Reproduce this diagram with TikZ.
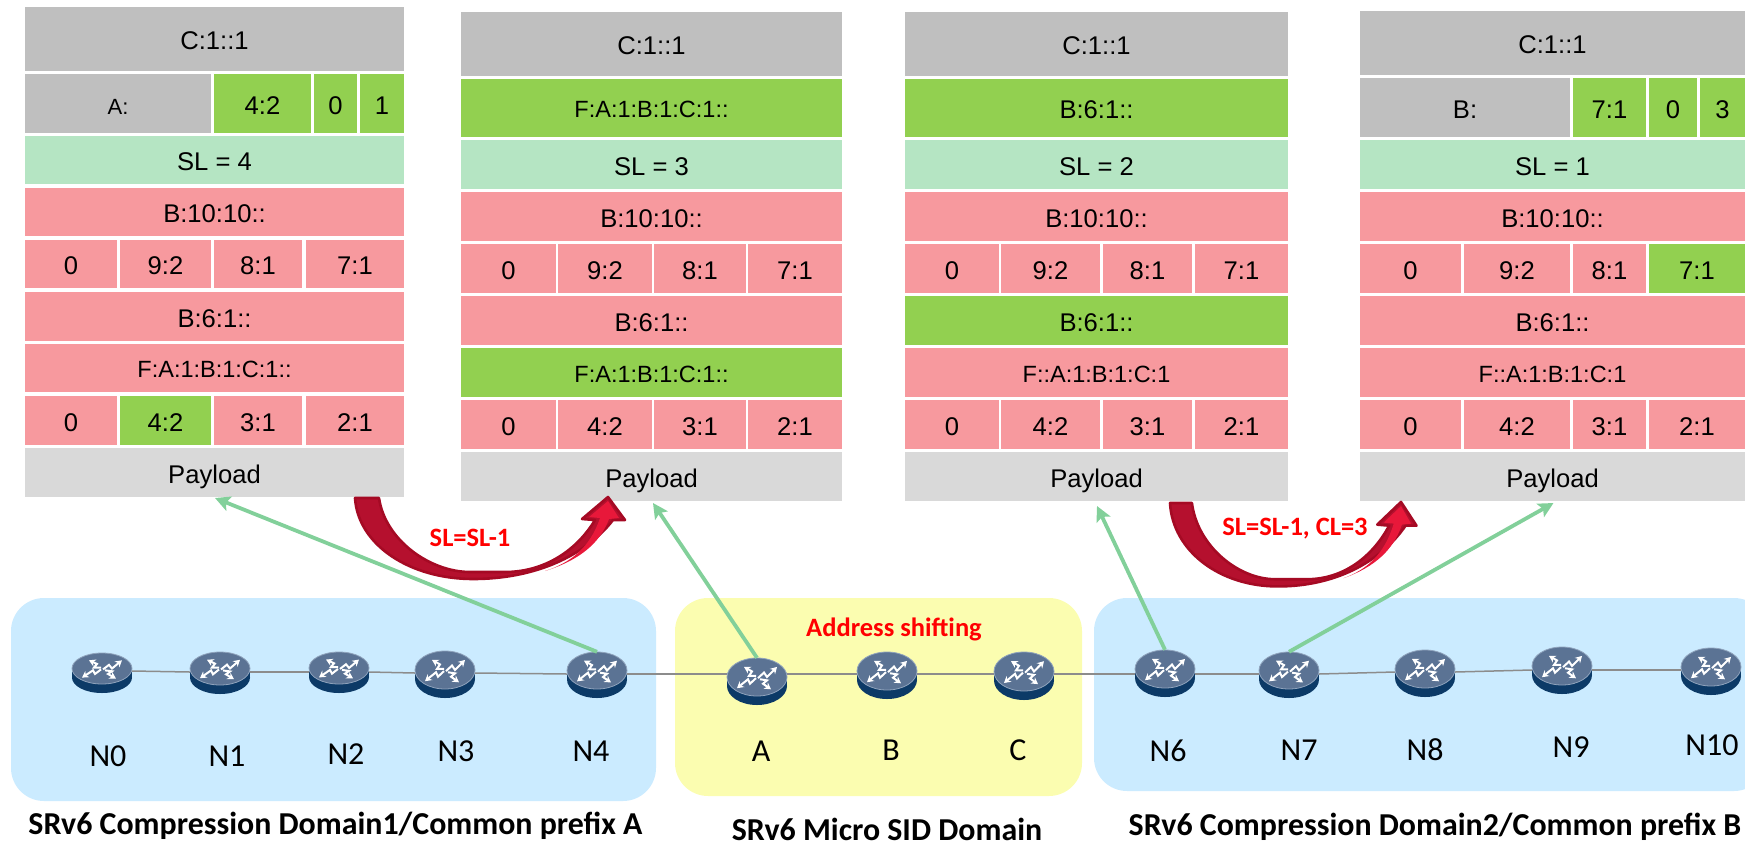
\documentclass[tikz,border=0pt]{standalone}
\usepackage{fontspec}
\setmainfont{Liberation Sans}
\newfontfamily\labelfont{Carlito}
\usetikzlibrary{
    arrows.meta,
    shapes,
    calc,
}

\begin{document}
\begin{tikzpicture}[x=1pt,y=-1pt,>={Stealth[length=15pt,width=15pt,inset=3pt]}]

    \tikzstyle{commonCell}=[inner sep=0pt, align=center, text height=21pt, text depth=0pt, font=\fontsize{25.6}{25.6}\selectfont]
    \tikzstyle{greyCell}=[commonCell, fill=black!25]
    \tikzstyle{payCell}=[commonCell, fill=black!15]
    \tikzstyle{greenCell}=[commonCell, fill=green1]
    \tikzstyle{mintCell}=[commonCell, fill=mint1]
    \tikzstyle{pinkCell}=[commonCell, fill=pink1]
    \tikzstyle{small}=[font=\fontsize{23.5}{23.5}\selectfont, text height=19.5pt]
    \tikzstyle{domainBox}=[inner sep=0pt, rounded corners=33pt]
    \tikzstyle{routerNode}=[ellipse, inner sep=0pt, minimum width=60pt]
    \tikzstyle{routerBody}=[fill=navy1]
    \tikzstyle{routerFace}=[fill=slate1, draw=slate2, line width=0.8pt]
    \tikzstyle{routerArrow}=[white, line width=2pt, -{Stealth[length=6.5pt,width=7.5pt]}]
    \tikzstyle{link}=[gray2, line width=1.5pt]
    \tikzstyle{feed}=[green2, line width=3.8pt, ->]
    \tikzstyle{netLabel}=[inner sep=0pt, text height=20pt, text depth=0pt, font=\labelfont\fontsize{32}{32}\selectfont]
    \tikzstyle{title}=[inner sep=0pt, text height=20pt, text depth=0pt, font=\labelfont\bfseries\fontsize{31.9}{31.9}\selectfont]
    \tikzstyle{redNote}=[inner sep=0pt, text height=17pt, text depth=0pt, text=red, font=\labelfont\bfseries\fontsize{26.5}{26.5}\selectfont]
    \tikzstyle{bendBody}=[fill=bend1, draw=bend2, line width=2.6pt, line join=round]
    \tikzstyle{bendLight}=[fill=bend3]

    \definecolor{green1}{HTML}{92D050}
    \definecolor{green2}{HTML}{82D09A}
    \definecolor{mint1}{HTML}{B5E5C3}
    \definecolor{pink1}{HTML}{F7999E}
    \definecolor{blue1}{HTML}{CBEBFF}
    \definecolor{yellow1}{HTML}{FBFDB0}
    \definecolor{navy1}{HTML}{0C3A67}
    \definecolor{slate1}{HTML}{5B7394}
    \definecolor{slate2}{HTML}{8FA3BC}
    \definecolor{gray2}{HTML}{8C8C8C}
    \definecolor{bend1}{HTML}{B5102E}
    \definecolor{bend2}{HTML}{A50A24}
    \definecolor{bend3}{HTML}{E8183A}

    \useasboundingbox (0,0) rectangle (1745,841);

    % One table cell: style, name, text, left, right, top, bottom
    \def \cell#1#2#3#4#5#6#7{\node at ({(#4+#5)/2},{(#6+#7)/2}) [#1, minimum width={#5-#4}, minimum height={#7-#6}] (#2) {#3};}

    % One router: name, x, y of the link, top, bottom
    \def \router#1#2#3#4#5{
        \pgfmathsetmacro \faceR {(#5-#4-9)/2}
        \pgfmathsetmacro \faceY {#4+\faceR}
        \pgfmathsetmacro \nodeH {2*(#3-#4)}
        \fill [routerBody] (#2,\faceY+9) ellipse [x radius=30pt, y radius=\faceR pt];
        \fill [routerBody] (#2-30,\faceY) rectangle (#2+30,\faceY+9);
        \fill [routerFace] (#2,\faceY) ellipse [x radius=30pt, y radius=\faceR pt];
        \node at (#2,#3) [routerNode, minimum height=\nodeH] (#1) {};
        \begin{scope}[shift={(#2,\faceY)}, yscale=\faceR/17]
            \draw [routerArrow] (1,1) -- (7,-4) -- (10,0) -- (20,-9);
            \draw [routerArrow] (-1,1) -- (-7,6) -- (-9,2) -- (-20,10);
            \draw [routerArrow] (-1,-1) -- (-8,-1) -- (-5,-5) -- (-13,-9);
            \draw [routerArrow] (3,2) -- (10,3) -- (6,6) -- (14,11);
        \end{scope}
    }

    % One curved arrow, local coordinates
    \def \bendarrow{
        \draw [bendBody] (0,0) .. controls (3,47) and (55,81) .. (118,81) .. controls (180,81) and (230,58) .. (258,22) -- (270,22) -- (253,-1) -- (227,21) -- (240,22) .. controls (222,52) and (190,74) .. (150,74) -- (115,74) .. controls (75,74) and (30,42) .. (24,0) -- cycle;
        \fill [bendLight] (190,73) .. controls (225,62) and (245,45) .. (254,21) -- (264,20) -- (253,3) -- (234,19) -- (245,20) .. controls (235,50) and (215,65) .. (190,73) -- cycle;
    }

    % Domains
    \node at (333.5,699.5) [domainBox, fill=blue1, minimum width=645, minimum height=203] (DomA) {};
    \node at (878.5,697) [domainBox, fill=yellow1, minimum width=407, minimum height=198] (DomS) {};
    \node at (1430.5,694.5) [domainBox, fill=blue1, minimum width=673, minimum height=193] (DomB) {};

    % First table
    \cell{greyCell}{T1sid}{C:1::1}{25}{404}{7}{71}
    \cell{greyCell}{T1pre}{\fontsize{22}{22}\selectfont A:}{25}{211}{74}{133}
    \cell{greenCell}{T1fun}{4:2}{214}{311}{74}{133}
    \cell{greenCell}{T1zero}{0}{314}{357}{74}{133}
    \cell{greenCell}{T1one}{1}{360}{404}{74}{133}
    \cell{mintCell}{T1sl}{SL = 4}{25}{404}{136}{184}
    \cell{pinkCell}{T1seg}{B:10:10::}{25}{404}{188}{236}
    \cell{pinkCell}{T1a}{0}{25}{117}{240}{288}
    \cell{pinkCell}{T1b}{9:2}{120}{211}{240}{288}
    \cell{pinkCell}{T1c}{8:1}{214}{302}{240}{288}
    \cell{pinkCell}{T1d}{7:1}{306}{404}{240}{288}
    \cell{pinkCell}{T1mid}{B:6:1::}{25}{404}{292}{341}
    \cell{pinkCell, small}{T1low}{F:A:1:B:1:C:1::}{25}{404}{344}{392}
    \cell{pinkCell}{T1e}{0}{25}{117}{396}{445}
    \cell{greenCell}{T1f}{4:2}{120}{211}{396}{445}
    \cell{pinkCell}{T1g}{3:1}{214}{302}{396}{445}
    \cell{pinkCell}{T1h}{2:1}{306}{404}{396}{445}
    \cell{payCell}{T1pay}{Payload}{25}{404}{448}{497}

    % Second table
    \cell{greyCell}{T2sid}{C:1::1}{461}{842}{12}{76}
    \cell{greenCell, small}{T2pre}{F:A:1:B:1:C:1::}{461}{842}{79}{137}
    \cell{mintCell}{T2sl}{SL = 3}{461}{842}{140}{189}
    \cell{pinkCell}{T2seg}{B:10:10::}{461}{842}{192}{241}
    \cell{pinkCell}{T2a}{0}{461}{556}{244}{293}
    \cell{pinkCell}{T2b}{9:2}{558}{652}{244}{293}
    \cell{pinkCell}{T2c}{8:1}{654}{746}{244}{293}
    \cell{pinkCell}{T2d}{7:1}{748}{842}{244}{293}
    \cell{pinkCell}{T2mid}{B:6:1::}{461}{842}{296}{345}
    \cell{greenCell, small}{T2low}{F:A:1:B:1:C:1::}{461}{842}{348}{397}
    \cell{pinkCell}{T2e}{0}{461}{556}{400}{449}
    \cell{pinkCell}{T2f}{4:2}{558}{652}{400}{449}
    \cell{pinkCell}{T2g}{3:1}{654}{746}{400}{449}
    \cell{pinkCell}{T2h}{2:1}{748}{842}{400}{449}
    \cell{payCell}{T2pay}{Payload}{461}{842}{452}{501}

    % Third table
    \cell{greyCell}{T3sid}{C:1::1}{905}{1288}{12}{76}
    \cell{greenCell}{T3pre}{B:6:1::}{905}{1288}{79}{137}
    \cell{mintCell}{T3sl}{SL = 2}{905}{1288}{140}{189}
    \cell{pinkCell}{T3seg}{B:10:10::}{905}{1288}{192}{241}
    \cell{pinkCell}{T3a}{0}{905}{999}{244}{293}
    \cell{pinkCell}{T3b}{9:2}{1001}{1100}{244}{293}
    \cell{pinkCell}{T3c}{8:1}{1103}{1192}{244}{293}
    \cell{pinkCell}{T3d}{7:1}{1195}{1288}{244}{293}
    \cell{greenCell}{T3mid}{B:6:1::}{905}{1288}{296}{345}
    \cell{pinkCell, small}{T3low}{F::A:1:B:1:C:1}{905}{1288}{348}{397}
    \cell{pinkCell}{T3e}{0}{905}{999}{400}{449}
    \cell{pinkCell}{T3f}{4:2}{1001}{1100}{400}{449}
    \cell{pinkCell}{T3g}{3:1}{1103}{1192}{400}{449}
    \cell{pinkCell}{T3h}{2:1}{1195}{1288}{400}{449}
    \cell{payCell}{T3pay}{Payload}{905}{1288}{452}{501}

    % Fourth table, runs off the page
    \cell{greyCell}{T4sid}{C:1::1}{1360}{1745}{11}{75}
    \cell{greyCell}{T4pre}{B:}{1360}{1570}{78}{137}
    \cell{greenCell}{T4fun}{7:1}{1573}{1646}{78}{137}
    \cell{greenCell}{T4zero}{0}{1649}{1697}{78}{137}
    \cell{greenCell}{T4three}{3}{1700}{1745}{78}{137}
    \cell{mintCell}{T4sl}{SL = 1}{1360}{1745}{140}{189}
    \cell{pinkCell}{T4seg}{B:10:10::}{1360}{1745}{192}{241}
    \cell{pinkCell}{T4a}{0}{1360}{1461}{244}{293}
    \cell{pinkCell}{T4b}{9:2}{1464}{1570}{244}{293}
    \cell{pinkCell}{T4c}{8:1}{1573}{1646}{244}{293}
    \cell{greenCell}{T4d}{7:1}{1649}{1745}{244}{293}
    \cell{pinkCell}{T4mid}{B:6:1::}{1360}{1745}{296}{345}
    \cell{pinkCell, small}{T4low}{F::A:1:B:1:C:1}{1360}{1745}{348}{397}
    \cell{pinkCell}{T4e}{0}{1360}{1461}{400}{449}
    \cell{pinkCell}{T4f}{4:2}{1464}{1570}{400}{449}
    \cell{pinkCell}{T4g}{3:1}{1573}{1646}{400}{449}
    \cell{pinkCell}{T4h}{2:1}{1649}{1745}{400}{449}
    \cell{payCell}{T4pay}{Payload}{1360}{1745}{452}{501}

    % Routers
    \router{N0}{102}{671}{653}{693}
    \router{N1}{220}{672}{652}{694}
    \router{N2}{339}{672}{652}{693}
    \router{N3}{445}{673}{651}{698}
    \router{N4}{597}{674}{652}{698}
    \router{A}{757}{674}{658}{705}
    \router{B}{887}{674}{652}{699}
    \router{C}{1024}{674}{652}{700}
    \router{N6}{1165}{674}{650}{697}
    \router{N7}{1289}{674}{652}{698}
    \router{N8}{1425}{672}{650}{697}
    \router{N9}{1562}{670}{647}{694}
    \router{N10}{1711}{670}{648}{695}

    % Links
    \draw [link] (N0.east) -- (N1.west);
    \draw [link] (N1.east) -- (N2.west);
    \draw [link] (N2.east) -- (N3.west);
    \draw [link] (N3.east) -- (N4.west);
    \draw [link] (N4.east) -- (A.west);
    \draw [link] (A.east) -- (B.west);
    \draw [link] (B.east) -- (C.west);
    \draw [link] (C.east) -- (N6.west);
    \draw [link] (N6.east) -- (N7.west);
    \draw [link] (N7.east) -- (N8.west);
    \draw [link] (N8.east) -- (N9.west);
    \draw [link] (N9.east) -- (N10.west);

    % Router labels
    \node at (108,756) [netLabel] (N0text) {N0};
    \node at (227,756) [netLabel] (N1text) {N1};
    \node at (346,754) [netLabel] (N2text) {N2};
    \node at (456,751) [netLabel] (N3text) {N3};
    \node at (591,751) [netLabel] (N4text) {N4};
    \node at (761,751) [netLabel] (Atext) {A};
    \node at (891,750) [netLabel] (Btext) {B};
    \node at (1018,750) [netLabel] (Ctext) {C};
    \node at (1168,751) [netLabel] (N6text) {N6};
    \node at (1299,750) [netLabel] (N7text) {N7};
    \node at (1425,750) [netLabel] (N8text) {N8};
    \node at (1571,747) [netLabel] (N9text) {N9};
    \node at (1712,745) [netLabel] (N10text) {N10};

    % Curved arrows
    \begin{scope}[shift={(355,498)}]
        \bendarrow
    \end{scope}
    \begin{scope}[shift={(1170,503)}, xscale=0.913, yscale=1.03]
        \bendarrow
    \end{scope}

    % Arrows up to the packets
    \coordinate (T1in) at (215,498);
    \coordinate (T2in) at (653,503);
    \coordinate (T3in) at (1097,506);
    \coordinate (T4in) at (1553.5,503);
    \draw [feed] (N4.north) -- (T1in);
    \draw [feed] (A.north) -- (T2in);
    \draw [feed] (N6.north) -- (T3in);
    \draw [feed] (N7.north) -- (T4in);

    % Notes and titles
    \node at (470,538) [redNote] (NoteA) {SL=SL-1};
    \node at (1295,527) [redNote] (NoteB) {SL=SL-1, CL=3};
    \node at (894,628) [redNote] (NoteS) {Address shifting};
    \node at (335.5,824) [title] (TitleA) {SRv6 Compression Domain1/Common prefix A};
    \node at (887,830) [title] (TitleS) {SRv6 Micro SID Domain};
    \node at (1435,825) [title] (TitleB) {SRv6 Compression Domain2/Common prefix B};
\end{tikzpicture}
\end{document}
